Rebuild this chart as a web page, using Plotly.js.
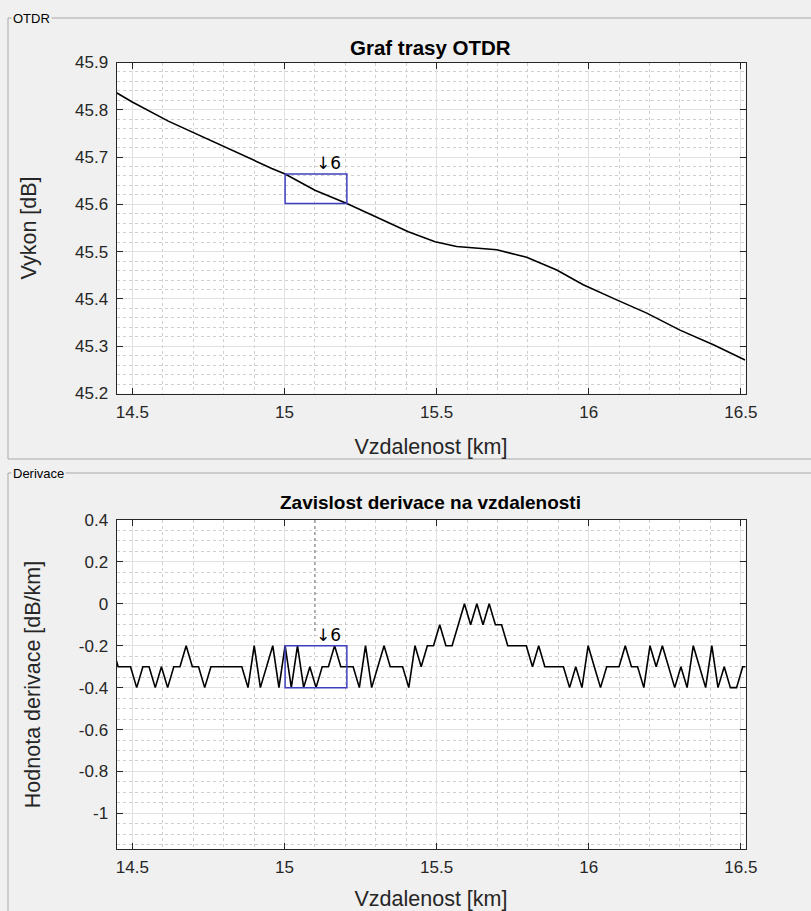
<!DOCTYPE html>
<html>
<head>
<meta charset="utf-8">
<script src="https://cdn.plot.ly/plotly-3.0.1.min.js"></script>
<style>
html,body{margin:0;padding:0;background:#f0f0f0;}
#chart{width:811px;height:911px;}
</style>
</head>
<body>
<div id="chart"></div>
<script>
// ---- Data ----
// OTDR trace (top panel)
const traceKm = [14.4477, 14.498, 14.618, 14.706, 14.794, 14.892, 14.958, 15.002, 15.100, 15.205,
  15.320, 15.407, 15.495, 15.566, 15.698, 15.796, 15.895, 15.982, 16.092, 16.191, 16.300, 16.410, 16.514];
const tracePowerDb = [45.836, 45.817, 45.776, 45.750, 45.723, 45.695, 45.676, 45.664, 45.630, 45.602,
  45.567, 45.542, 45.521, 45.511, 45.504, 45.488, 45.461, 45.430, 45.398, 45.370, 45.334, 45.303, 45.271];

// Derivative (bottom panel)
const derivKm = [
  14.4328, 14.4531, 14.4734, 14.4938, 14.5141, 14.5344, 14.5548, 14.5751, 14.5954, 14.6158,
  14.6361, 14.6564, 14.6767, 14.6971, 14.7174, 14.7377, 14.7581, 14.7784, 14.7987, 14.8191,
  14.8394, 14.8597, 14.8800, 14.9004, 14.9207, 14.9410, 14.9614, 14.9817, 15.0020, 15.0224,
  15.0427, 15.0630, 15.0833, 15.1037, 15.1240, 15.1443, 15.1647, 15.1850, 15.2053, 15.2257,
  15.2460, 15.2663, 15.2866, 15.3070, 15.3273, 15.3476, 15.3680, 15.3883, 15.4086, 15.4290,
  15.4493, 15.4696, 15.4899, 15.5103, 15.5306, 15.5509, 15.5713, 15.5916, 15.6119, 15.6323,
  15.6526, 15.6729, 15.6932, 15.7136, 15.7339, 15.7542, 15.7746, 15.7949, 15.8152, 15.8356,
  15.8559, 15.8762, 15.8965, 15.9169, 15.9372, 15.9575, 15.9779, 15.9982, 16.0185, 16.0389,
  16.0592, 16.0795, 16.0998, 16.1202, 16.1405, 16.1608, 16.1812, 16.2015, 16.2218, 16.2422,
  16.2625, 16.2828, 16.3031, 16.3235, 16.3438, 16.3641, 16.3845, 16.4048, 16.4251, 16.4455,
  16.4658, 16.4861, 16.5064, 16.5268];
const derivDbPerKm = [
  -0.2,-0.3,-0.3,-0.3,-0.4,-0.3,-0.3,-0.4,-0.3,-0.4,
  -0.3,-0.3,-0.2,-0.3,-0.3,-0.4,-0.3,-0.3,-0.3,-0.3,
  -0.3,-0.3,-0.4,-0.2,-0.4,-0.3,-0.2,-0.4,-0.2,-0.4,
  -0.2,-0.4,-0.3,-0.4,-0.3,-0.3,-0.2,-0.3,-0.3,-0.3,
  -0.4,-0.2,-0.4,-0.3,-0.2,-0.3,-0.3,-0.3,-0.4,-0.2,
  -0.3,-0.2,-0.2,-0.1,-0.2,-0.2,-0.1,0,-0.1,0,
  -0.1,0,-0.1,-0.1,-0.2,-0.2,-0.2,-0.2,-0.3,-0.2,
  -0.3,-0.3,-0.3,-0.3,-0.4,-0.3,-0.4,-0.2,-0.3,-0.4,
  -0.3,-0.3,-0.3,-0.2,-0.3,-0.3,-0.4,-0.2,-0.3,-0.2,
  -0.3,-0.4,-0.3,-0.4,-0.2,-0.3,-0.4,-0.2,-0.4,-0.3,
  -0.4,-0.4,-0.3,-0.3];

// Selected event window and its label
const eventStartKm = 15.002;
const eventEndKm = 15.205;
const eventMarkKm = 15.1;
const eventLabel = '\u21936';
const derivBoxTop = -0.2;
const derivBoxBottom = -0.4;

// Tick labels
const xTickVals = [14.5, 15, 15.5, 16, 16.5];
const xTickText = ['14.5', '15', '15.5', '16', '16.5'];
const yTopTickVals = [45.2, 45.3, 45.4, 45.5, 45.6, 45.7, 45.8, 45.9];
const yTopTickText = ['45.2', '45.3', '45.4', '45.5', '45.6', '45.7', '45.8', '45.9'];
const yBotTickVals = [-1, -0.8, -0.6, -0.4, -0.2, 0, 0.2, 0.4];
const yBotTickText = ['-1', '-0.8', '-0.6', '-0.4', '-0.2', '0', '0.2', '0.4'];

// ---- helpers ----
function interp(xs, ys, x) {
  for (let i = 0; i < xs.length - 1; i++) {
    if (x >= xs[i] && x <= xs[i + 1]) {
      const t = (x - xs[i]) / (xs[i + 1] - xs[i]);
      return ys[i] + t * (ys[i + 1] - ys[i]);
    }
  }
  return ys[ys.length - 1];
}
const W = 811, H = 911;
const fx = p => p / W;
const fy = p => 1 - p / H;

const FONT = 'Liberation Sans, Arial, Helvetica, DejaVu Sans, sans-serif';
const LABEL_FONT = 'DejaVu Sans, Liberation Sans, sans-serif';
const AX = '#262626';
const GRID = '#e1e1e1';
const MINOR = '#cfcfcf';
const BLUE = '#3f3fbf';

const boxTopY = interp(traceKm, tracePowerDb, eventStartKm);
const boxBotY = interp(traceKm, tracePowerDb, eventEndKm);

const xRange = [14.4477, 16.5155];

function xAxis(anchor) {
  return {
    domain: [fx(116.5), fx(745.5)],
    anchor: anchor,
    range: xRange,
    tickvals: xTickVals, ticktext: xTickText,
    ticks: 'inside', ticklen: 6, tickwidth: 1, tickcolor: AX,
    showline: true, linecolor: AX, linewidth: 1, mirror: 'ticks',
    showgrid: true, gridcolor: GRID, gridwidth: 1,
    minor: {dtick: 0.1, tick0: 14.5, showgrid: true, gridcolor: MINOR, griddash: 'dot', gridwidth: 1, ticks: ''},
    zeroline: false,
    tickfont: {family: FONT, size: 17, color: AX},
    ticklabelstandoff: 3,
    title: {text: 'Vzdalenost [km]', font: {family: FONT, size: 21.5, color: AX}, standoff: 18},
    automargin: false
  };
}
function yAxis(anchor, domain, range, vals, text, minorStep, title) {
  return {
    domain: domain,
    anchor: anchor,
    range: range,
    tickvals: vals, ticktext: text,
    ticks: 'inside', ticklen: 6, tickwidth: 1, tickcolor: AX,
    showline: true, linecolor: AX, linewidth: 1, mirror: 'ticks',
    showgrid: true, gridcolor: GRID, gridwidth: 1,
    minor: {dtick: minorStep, tick0: 0, showgrid: true, gridcolor: MINOR, griddash: 'dot', gridwidth: 1, ticks: ''},
    zeroline: false,
    tickfont: {family: FONT, size: 17, color: AX},
    ticklabelstandoff: 4,
    title: {text: title, font: {family: FONT, size: 21.5, color: AX}, standoff: 32},
    automargin: false
  };
}

const traces = [
  {x: traceKm, y: tracePowerDb, xaxis: 'x', yaxis: 'y', type: 'scatter', mode: 'lines',
   line: {color: '#000000', width: 1.6}, hoverinfo: 'skip'},
  {x: derivKm, y: derivDbPerKm, xaxis: 'x2', yaxis: 'y2', type: 'scatter', mode: 'lines',
   line: {color: '#000000', width: 1.6}, hoverinfo: 'skip'}
];

const shapes = [
  // panel frames
  {type: 'rect', xref: 'paper', yref: 'paper', x0: fx(8), x1: fx(818), y0: fy(459), y1: fy(18),
   line: {color: '#a9a9a9', width: 1}, fillcolor: 'rgba(0,0,0,0)', layer: 'below'},
  {type: 'rect', xref: 'paper', yref: 'paper', x0: fx(8), x1: fx(818), y0: fy(925), y1: fy(473),
   line: {color: '#a9a9a9', width: 1}, fillcolor: 'rgba(0,0,0,0)', layer: 'below'},
  // event boxes
  {type: 'rect', xref: 'x', yref: 'y', x0: eventStartKm, x1: eventEndKm, y0: boxBotY, y1: boxTopY,
   line: {color: BLUE, width: 1.5}},
  {type: 'rect', xref: 'x2', yref: 'y2', x0: eventStartKm, x1: eventEndKm, y0: derivBoxBottom, y1: derivBoxTop,
   line: {color: BLUE, width: 1.5}},
  // dotted marker line in derivative plot
  {type: 'line', xref: 'x2', yref: 'y2', x0: eventMarkKm, x1: eventMarkKm, y0: 0.4, y1: -0.13,
   line: {color: '#9a9a9a', width: 1.5, dash: 'dot'}}
];

const annotations = [
  {xref: 'paper', yref: 'paper', x: fx(11), y: fy(18), xanchor: 'left', yanchor: 'middle',
   text: 'OTDR', showarrow: false, font: {family: FONT, size: 13, color: '#000'}, bgcolor: '#f0f0f0', borderpad: 1},
  {xref: 'paper', yref: 'paper', x: fx(11), y: fy(473), xanchor: 'left', yanchor: 'middle',
   text: 'Derivace', showarrow: false, font: {family: FONT, size: 13, color: '#000'}, bgcolor: '#f0f0f0', borderpad: 1},
  {xref: 'paper', yref: 'paper', x: fx(431), y: fy(47), xanchor: 'center', yanchor: 'middle',
   text: '<b>Graf trasy OTDR</b>', showarrow: false, font: {family: FONT, size: 20.5, color: '#000'}},
  {xref: 'paper', yref: 'paper', x: fx(431), y: fy(502), xanchor: 'center', yanchor: 'middle',
   text: '<b>Zavislost derivace na vzdalenosti</b>', showarrow: false, font: {family: FONT, size: 19, color: '#000'}},
  {xref: 'x', yref: 'y', x: eventMarkKm, y: boxTopY, xanchor: 'left', yanchor: 'bottom',
   text: eventLabel, showarrow: false, font: {family: LABEL_FONT, size: 17, color: '#000000'}, borderpad: 0},
  {xref: 'x2', yref: 'y2', x: eventMarkKm, y: derivBoxTop, xanchor: 'left', yanchor: 'bottom',
   text: eventLabel, showarrow: false, font: {family: LABEL_FONT, size: 17, color: '#000000'}, borderpad: 0}
];

const layout = {
  width: W, height: H,
  margin: {l: 0, r: 0, t: 0, b: 0},
  paper_bgcolor: '#f0f0f0',
  plot_bgcolor: '#ffffff',
  showlegend: false,
  font: {family: FONT, color: AX},
  xaxis: xAxis('y'),
  yaxis: yAxis('x', [fy(393.5), fy(62.5)], [45.2, 45.9], yTopTickVals, yTopTickText, 0.02, 'Vykon [dB]'),
  xaxis2: xAxis('y2'),
  yaxis2: yAxis('x2', [fy(849), fy(520)], [-1.17, 0.4], yBotTickVals, yBotTickText, 0.05, 'Hodnota derivace [dB/km]'),
  shapes: shapes,
  annotations: annotations
};

Plotly.newPlot('chart', traces, layout, {staticPlot: true, displayModeBar: false});
</script>
</body>
</html>
